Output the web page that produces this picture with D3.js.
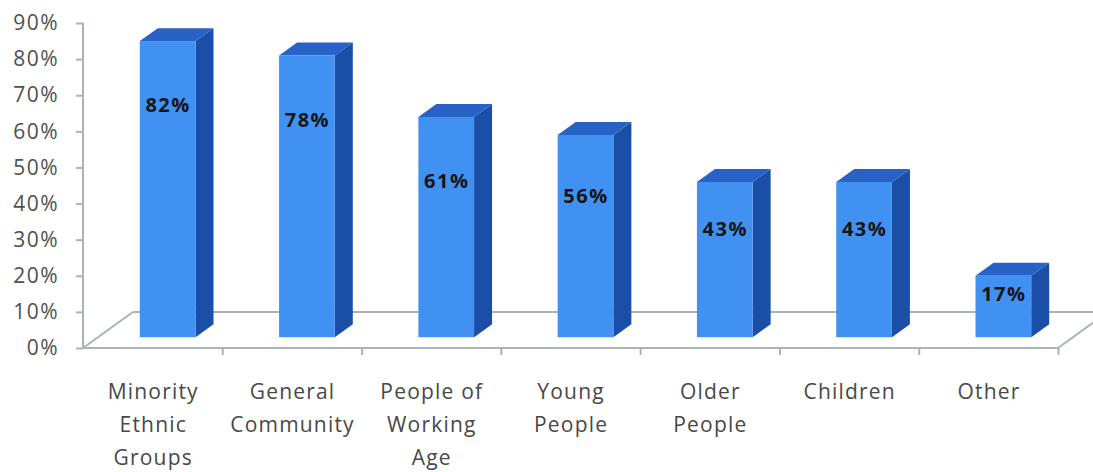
<!DOCTYPE html>
<html>
<head>
<meta charset="utf-8">
<script src="https://cdn.jsdelivr.net/npm/d3@7/dist/d3.min.js"></script>
<style>
  html, body { margin: 0; padding: 0; background: #fff; }
  svg { display: block; }
  text { font-family: "Open Sans", Lato, sans-serif; }
</style>
</head>
<body>
<svg id="chart" width="1093" height="472"></svg>
<script>
// Share of respondents by target group
const categories = [
  "Minority\nEthnic\nGroups",
  "General\nCommunity",
  "People of\nWorking\nAge",
  "Young\nPeople",
  "Older\nPeople",
  "Children",
  "Other"
];
const values = [0.82, 0.78, 0.61, 0.56, 0.43, 0.43, 0.17];
const yTicks = [0, 0.1, 0.2, 0.3, 0.4, 0.5, 0.6, 0.7, 0.8, 0.9];

(function draw() {
  const W = 1093, H = 472;
  const svg = d3.select("#chart");

  // plot frame (front plane of the floor)
  const pLeft = 83, pRight = 1058, pBottom = 348, pTop = 23;
  // oblique depth of the floor, and where the bars sit within it
  const depth = { dx: 50, dy: -36 };
  const barFront = 0.3, barBack = 0.66;

  const y = d3.scaleLinear().domain([0, 0.9]).range([pBottom, pTop]);
  const x = d3.scaleBand().domain(d3.range(categories.length)).range([pLeft, pRight]).padding(0);
  const bw = x.bandwidth();
  const barW = bw * 0.4;

  const axisColor = "#a9b5b1";
  const fontFamily = "'Open Sans', Lato, sans-serif";

  // clip to the canvas so the floor's far corner runs off the edge
  svg.append("defs").append("clipPath").attr("id", "cv")
    .append("rect").attr("width", W).attr("height", H);
  const g = svg.append("g").attr("clip-path", "url(#cv)");

  // floor outline: left diagonal, back edge, right diagonal
  const floor = g.append("g").attr("fill", "none").attr("stroke", axisColor).attr("stroke-width", 2);
  floor.append("line")
    .attr("x1", pLeft).attr("y1", y(0))
    .attr("x2", pLeft + depth.dx).attr("y2", y(0) + depth.dy);
  floor.append("line")
    .attr("x1", pLeft + depth.dx).attr("y1", y(0) + depth.dy)
    .attr("x2", pRight + depth.dx).attr("y2", y(0) + depth.dy);
  floor.append("line")
    .attr("x1", pRight).attr("y1", y(0))
    .attr("x2", pRight + depth.dx).attr("y2", y(0) + depth.dy);

  // bars drawn as side face, top face and front face
  const fx = barFront * depth.dx, fy = barFront * depth.dy;
  const bdx = (barBack - barFront) * depth.dx, bdy = (barBack - barFront) * depth.dy;

  const bars = g.append("g").selectAll("g.bar")
    .data(values.map((v, i) => ({ v, i })))
    .join("g").attr("class", "bar");

  bars.each(function(d) {
    const sel = d3.select(this);
    const x0 = x(d.i) + bw / 2 - barW / 2 + fx;
    const x1 = x0 + barW;
    const yb = y(0) + fy;
    const yt = y(d.v) + fy;
    sel.append("path")
      .attr("d", `M${x1},${yt}L${x1 + bdx},${yt + bdy}L${x1 + bdx},${yb + bdy}L${x1},${yb}Z`)
      .attr("fill", "#1b4ea7");
    sel.append("path")
      .attr("d", `M${x0},${yt}L${x1},${yt}L${x1 + bdx},${yt + bdy}L${x0 + bdx},${yt + bdy}Z`)
      .attr("fill", "#2862c6");
    sel.append("rect")
      .attr("x", x0).attr("y", yt).attr("width", barW).attr("height", yb - yt)
      .attr("fill", "#4191f2");
    const h = yb - yt;
    sel.append("text")
      .attr("x", (x0 + x1) / 2 + 0.5)
      .attr("y", yt + Math.min(0.3 * h, 64))
      .attr("dy", "0.36em")
      .attr("text-anchor", "middle")
      .attr("font-size", 20)
      .attr("letter-spacing", 1.5)
      .attr("font-weight", 700)
      .attr("fill", "#161616")
      .text(d3.format(".0%")(d.v));
  });

  // value axis
  const yAxis = svg.append("g")
    .attr("transform", `translate(${pLeft},0)`)
    .call(d3.axisLeft(y).tickValues(yTicks).tickFormat(d3.format(".0%")).tickSize(7).tickPadding(17));
  yAxis.select(".domain").attr("stroke", axisColor).attr("stroke-width", 2)
    .attr("d", `M0,${pTop}V${pBottom}`);
  yAxis.selectAll(".tick line").attr("stroke", axisColor).attr("stroke-width", 2);
  yAxis.selectAll(".tick text")
    .attr("font-size", 21).attr("letter-spacing", 1.5).attr("fill", "#505050")
    .attr("font-family", fontFamily);

  // category axis: ticks at band boundaries
  const xb = d3.scaleLinear().domain([0, categories.length]).range([pLeft, pRight]);
  const xAxis = svg.append("g")
    .attr("transform", `translate(0,${pBottom})`)
    .call(d3.axisBottom(xb).tickValues(d3.range(1, categories.length + 1))
      .tickFormat("").tickSize(7).tickSizeOuter(0));
  xAxis.select(".domain").attr("stroke", axisColor).attr("stroke-width", 2)
    .attr("d", `M${pLeft},0H${pRight}`);
  xAxis.selectAll(".tick line").attr("stroke", axisColor).attr("stroke-width", 2);

  // wrapped category labels
  const labels = svg.append("g").selectAll("text")
    .data(categories)
    .join("text")
    .attr("text-anchor", "middle")
    .attr("font-size", 21)
    .attr("letter-spacing", 1.2)
    .attr("fill", "#484848")
    .attr("transform", (d, i) => `translate(${x(i) + bw / 2 + 0.6},399)`);
  labels.each(function(d) {
    d3.select(this).selectAll("tspan")
      .data(d.split("\n"))
      .join("tspan")
      .attr("x", 0)
      .attr("y", (t, k) => k * 33)
      .text(t => t);
  });
})();
</script>
</body>
</html>
